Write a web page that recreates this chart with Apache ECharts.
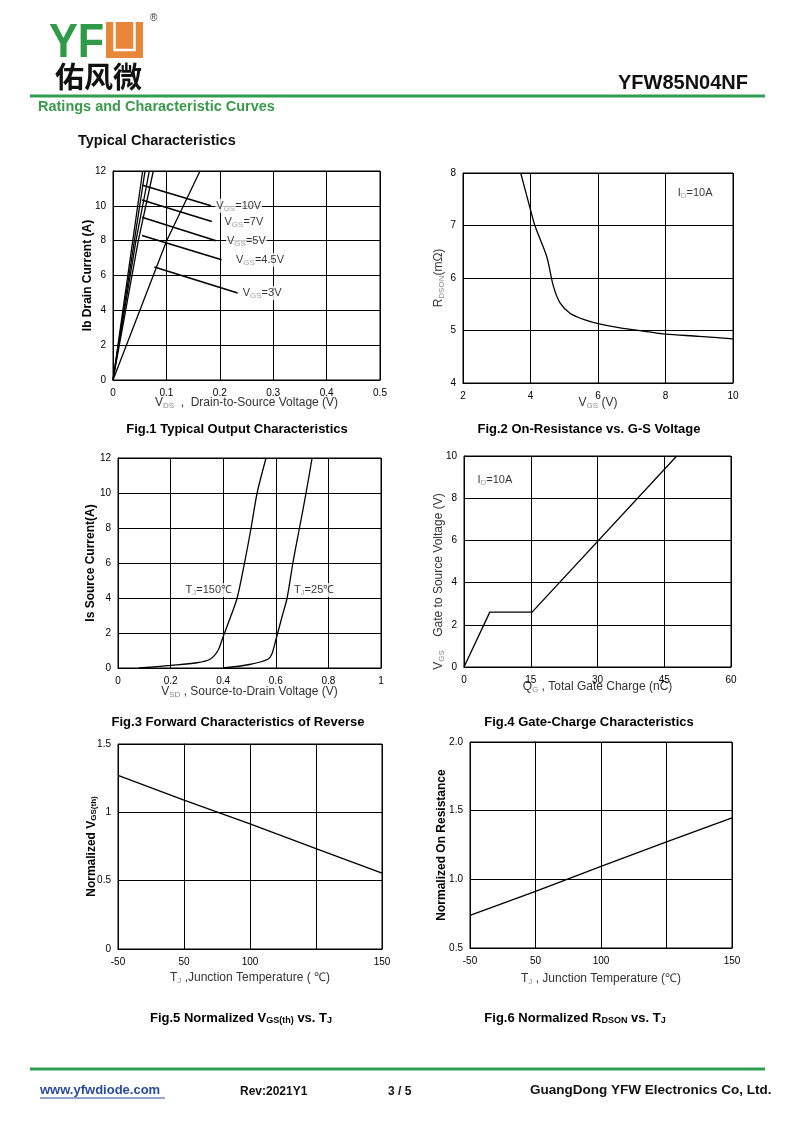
<!DOCTYPE html>
<html><head><meta charset="utf-8">
<script src="https://cdn.jsdelivr.net/npm/echarts@6/dist/echarts.min.js"></script>
<style>html,body{margin:0;padding:0;background:#fff}#c{width:800px;height:1131px}</style>
</head><body><div id="c"></div>
<script>
// ---------- DATA ----------
// Fig.1 Typical Output Characteristics
const fig1Names = ['10V', '7V', '5V', '4.5V', '3V'];
const fig1Vds = [[0, 0.037, 0.0556], [0, 0.040, 0.060], [0, 0.043, 0.068], [0, 0.0474, 0.0755], [0, 0.1005, 0.163]];
const fig1Id = [[0, 8, 12], [0, 8, 12], [0, 8, 12], [0, 8, 12], [0, 8, 12]];
const fig1ArrowFrom = [[0.1835, 10.0], [0.185, 9.1], [0.193, 7.99], [0.2035, 6.91], [0.2335, 5.0]];
const fig1ArrowTo = [[0.0556, 11.18], [0.0543, 10.34], [0.0543, 9.35], [0.0543, 8.30], [0.0774, 6.49]];
const fig1LabelAt = [[0.1916, 10.0], [0.207, 9.1], [0.2116, 8.0], [0.2285, 6.9], [0.241, 5.0]];
const fig1XTicks = ['0', '0.1', '0.2', '0.3', '0.4', '0.5'];
// Fig.2 On-Resistance vs G-S Voltage
const fig2Vgs = [3.71, 4.0, 4.14, 4.48, 4.68, 4.88, 5.17, 5.57, 6.0, 6.65, 7.44, 8.0, 9.0, 10];
const fig2R = [8.0, 7.30, 6.98, 6.41, 5.84, 5.52, 5.33, 5.21, 5.13, 5.05, 4.98, 4.93, 4.89, 4.84];
// Fig.3 Forward Characteristics of Reverse
const fig3V150 = [0.08, 0.2, 0.3, 0.35, 0.38, 0.40, 0.43, 0.453, 0.481, 0.506, 0.529, 0.563];
const fig3I150 = [0.0, 0.15, 0.3, 0.5, 1.0, 1.8, 3.0, 4, 6, 8, 10, 12];
const fig3V25 = [0.40, 0.5, 0.57, 0.585, 0.60, 0.625, 0.643, 0.665, 0.690, 0.715, 0.738];
const fig3I25 = [0.0, 0.2, 0.5, 0.8, 1.6, 3.0, 4, 6, 8, 10, 12];
const fig3XTicks = ['0', '0.2', '0.4', '0.6', '0.8', '1'];
// Fig.4 Gate-Charge
const fig4Q = [0, 5.8, 15.3, 47.8];
const fig4V = [0, 2.6, 2.6, 10];
// Fig.5 / Fig.6 vs TJ
const fig56T = [-50, 0, 50, 100, 150];
const fig5N = [1.27, 1.09, 0.915, 0.735, 0.555];
const fig6N = [0.738, 0.913, 1.095, 1.272, 1.447];
const fig56XTicks = ['-50', '50', '100', '', '150'];

// ---------- STYLE HELPERS ----------
const FONT = "'Liberation Sans', Arial, sans-serif";
const zip = (a, b) => a.map((v, i) => [v, b[i]]);
const richBase = {
  v: { fontFamily: FONT, fontSize: 12, color: '#333' },
  s: { fontFamily: FONT, fontSize: 8, color: '#888', padding: [6, 0, 0, 0] },
  b: { fontFamily: FONT, fontSize: 12, fontWeight: 'bold', color: '#000' },
  sb: { fontFamily: FONT, fontSize: 8, fontWeight: 'bold', color: '#000', padding: [5, 0, 0, 0] },
  lab: { fontFamily: FONT, fontSize: 11, color: '#000' }
};
function xAx(idx, min, max, interval, name, gap, fmt) {
  return {
    type: 'value', gridIndex: idx, min, max, interval,
    name, nameLocation: 'middle', nameGap: gap, nameMoveOverlap: false,
    nameTextStyle: { rich: richBase, fontFamily: FONT, fontSize: 12, color: '#333' },
    axisLine: { show: true, lineStyle: { color: '#000', width: 1 } },
    axisTick: { show: false },
    axisLabel: { fontFamily: FONT, fontSize: 10, color: '#000', margin: 8, formatter: fmt },
    splitLine: { show: true, lineStyle: { color: '#000', width: 1 } }
  };
}
function yAx(idx, min, max, interval, name, gap, fmt) {
  return {
    type: 'value', gridIndex: idx, min, max, interval,
    name, nameLocation: 'middle', nameGap: gap, nameMoveOverlap: false,
    nameTextStyle: { rich: richBase, fontFamily: FONT, fontSize: 12, color: '#333' },
    axisLine: { show: true, lineStyle: { color: '#000', width: 1 } },
    axisTick: { show: false },
    axisLabel: { fontFamily: FONT, fontSize: 10, color: '#000', margin: 7, formatter: fmt },
    splitLine: { show: true, lineStyle: { color: '#000', width: 1 } }
  };
}
function curve(idx, data, smooth) {
  return {
    type: 'line', xAxisIndex: idx, yAxisIndex: idx, data, showSymbol: false, symbol: 'none',
    smooth: smooth || false, clip: true, silent: true,
    lineStyle: { color: '#000', width: 1.3 }, z: 5
  };
}
function labels(idx, items, extra) {
  return Object.assign({
    type: 'scatter', xAxisIndex: idx, yAxisIndex: idx, symbolSize: 0, silent: true, z: 6,
    data: items.map(it => ({ value: it.at, name: it.text })),
    label: {
      show: true, position: 'right', distance: 0, formatter: p => p.name,
      rich: richBase, backgroundColor: '#fff', padding: [0, 1, 0, 1],
      fontFamily: FONT, fontSize: 11, color: '#000'
    }
  }, extra || {});
}

const series = [];
// Fig1
fig1Names.forEach((n, i) => series.push(curve(0, zip(fig1Vds[i], fig1Id[i]))));
series.push(labels(0, fig1Names.map((n, i) => ({ at: fig1LabelAt[i], text: '{lab|V}{s|GS}{lab|=' + n + '}' })), {
  markLine: {
    silent: true, symbol: ['none', 'arrow'], symbolSize: [0, 8],
    lineStyle: { color: '#000', width: 1.6, type: 'solid' }, label: { show: false },
    data: fig1ArrowFrom.map((f, i) => [{ coord: f }, { coord: fig1ArrowTo[i] }])
  }
}));
// Fig2
series.push(curve(1, zip(fig2Vgs, fig2R), 0.3));
series.push(labels(1, [{ at: [8.33, 7.62], text: '{lab|I}{s|D}{lab|=10A}' }]));
// Fig3
series.push(curve(2, zip(fig3V150, fig3I150), 0.3));
series.push(curve(2, zip(fig3V25, fig3I25), 0.3));
series.push(labels(2, [
  { at: [0.253, 4.46], text: '{lab|T}{s|J}{lab|=150℃}' },
  { at: [0.665, 4.46], text: '{lab|T}{s|J}{lab|=25℃}' }
]));
// Fig4
series.push(curve(3, zip(fig4Q, fig4V)));
series.push(labels(3, [{ at: [2.8, 8.86], text: '{lab|I}{s|D}{lab|=10A}' }]));
// Fig5, Fig6
series.push(curve(4, zip(fig56T, fig5N)));
series.push(curve(5, zip(fig56T, fig6N)));

const caption = (cx, cy, text) => ({
  type: 'text', x: cx, y: cy,
  style: {
    text, align: 'center', verticalAlign: 'middle', font: 'bold 13px ' + FONT, fill: '#000',
    rich: {
      t: { fontFamily: FONT, fontSize: 13, fontWeight: 'bold', fill: '#000' },
      u: { fontFamily: FONT, fontSize: 9, fontWeight: 'bold', fill: '#000', padding: [5, 0, 0, 0] }
    }
  }
});
const txt = (x, y, text, font, fill, align) => ({
  type: 'text', x, y, style: { text, font, fill: fill || '#000', align: align || 'left', verticalAlign: 'middle' }
});

const graphic = [
  // logo
  Object.assign(txt(49, 44, 'YF', 'bold 48px ' + FONT, '#2f9a48'), { scaleX: 0.9 }),
  { type: 'rect', shape: { x: 106, y: 22, width: 37, height: 36 }, style: { fill: '#e8873a' } },
  { type: 'polyline', shape: { points: [[114.5, 22], [114.5, 50], [134.5, 50], [134.5, 22]] }, style: { stroke: '#fff', lineWidth: 2.5, fill: null } },
  txt(150, 18, '®', '10px ' + FONT, '#333'),
  txt(55, 77, '佑风微', 'bold 29px "Noto Sans CJK SC", sans-serif', '#111'),
  txt(748, 83, 'YFW85N04NF', 'bold 20px ' + FONT, '#111', 'right'),
  { type: 'line', shape: { x1: 30, y1: 96, x2: 765, y2: 96 }, style: { stroke: '#2f9e4f', lineWidth: 3 } },
  txt(38, 107, 'Ratings and Characteristic Curves', 'bold 14.5px ' + FONT, '#3a9a4a'),
  txt(78, 141, 'Typical Characteristics', 'bold 14.5px ' + FONT, '#111'),
  // captions
  caption(237, 429, '{t|Fig.1 Typical Output Characteristics}'),
  caption(589, 429, '{t|Fig.2 On-Resistance vs. G-S Voltage}'),
  caption(238, 722, '{t|Fig.3 Forward Characteristics of Reverse}'),
  caption(589, 722, '{t|Fig.4 Gate-Charge Characteristics}'),
  caption(241, 1018, '{t|Fig.5 Normalized V}{u|GS(th)}{t| vs. T}{u|J}'),
  caption(575, 1018, '{t|Fig.6 Normalized R}{u|DSON}{t| vs. T}{u|J}'),
  // footer
  { type: 'line', shape: { x1: 30, y1: 1069, x2: 765, y2: 1069 }, style: { stroke: '#2f9e4f', lineWidth: 3 } },
  txt(40, 1090, 'www.yfwdiode.com', 'bold 13px ' + FONT, '#2a4a9c'),
  { type: 'line', shape: { x1: 40, y1: 1098, x2: 165, y2: 1098 }, style: { stroke: '#2a4a9c', lineWidth: 1 } },
  txt(240, 1092, 'Rev:2021Y1', 'bold 12px ' + FONT, '#111'),
  txt(388, 1092, '3 / 5', 'bold 12px ' + FONT, '#111'),
  txt(530, 1090, 'GuangDong YFW Electronics Co, Ltd.', 'bold 13.5px ' + FONT, '#111')
];

const option = {
  animation: false,
  backgroundColor: '#fff',
  grid: [
    { left: 113, top: 171, width: 267, height: 209, show: true, borderColor: '#000', borderWidth: 1 },
    { left: 463, top: 173, width: 270, height: 210, show: true, borderColor: '#000', borderWidth: 1 },
    { left: 118, top: 458, width: 263, height: 210, show: true, borderColor: '#000', borderWidth: 1 },
    { left: 464, top: 456, width: 267, height: 211, show: true, borderColor: '#000', borderWidth: 1 },
    { left: 118, top: 744, width: 264, height: 205, show: true, borderColor: '#000', borderWidth: 1 },
    { left: 470, top: 742, width: 262, height: 206, show: true, borderColor: '#000', borderWidth: 1 }
  ],
  xAxis: [
    xAx(0, 0, 0.5, 0.1, '{v|V}{s|DS}{v|  ,  Drain-to-Source Voltage (V)}', 16, (v, i) => fig1XTicks[i]),
    xAx(1, 2, 10, 2, '{v|V}{s|GS}{v| (V)}', 13),
    xAx(2, 0, 1, 0.2, '{v|V}{s|SD}{v| , Source-to-Drain Voltage (V)}', 17, (v, i) => fig3XTicks[i]),
    xAx(3, 0, 60, 15, '{v|Q}{s|G}{v| , Total Gate Charge (nC)}', 13),
    xAx(4, -50, 150, 50, '{v|T}{s|J}{v| ,Junction Temperature ( ℃)}', 22, (v, i) => fig56XTicks[i]),
    xAx(5, -50, 150, 50, '{v|T}{s|J}{v| , Junction Temperature (℃)}', 24, (v, i) => fig56XTicks[i])
  ],
  yAxis: [
    yAx(0, 0, 12, 2, '{b|Ib Drain Current (A)}', 19),
    yAx(1, 4, 8, 1, '{v|R}{s|DSON}{v|(mΩ)}', 17),
    yAx(2, 0, 12, 2, '{b|Is Source Current(A)}', 21),
    yAx(3, 0, 10, 2, '{v|V}{s|GS}{v|    Gate to Source Voltage (V)            }', 18),
    yAx(4, 0, 1.5, 0.5, '{b|Normalized V}{sb|GS(th)}', 20),
    yAx(5, 0.5, 2.0, 0.5, '{b|Normalized On Resistance}', 22, v => v.toFixed(1))
  ],
  series,
  graphic
};
const chart = echarts.init(document.getElementById('c'), null, { renderer: 'canvas' });
chart.setOption(option);
</script>
</body></html>
